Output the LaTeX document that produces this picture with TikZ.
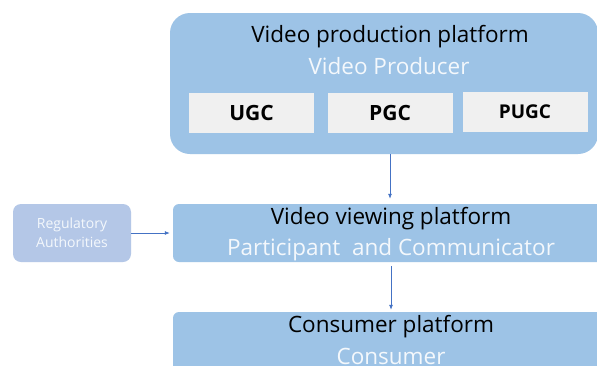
\documentclass[tikz,border=0pt]{standalone}
\usepackage{fontspec}
\setmainfont{Open Sans}
\usetikzlibrary{arrows.meta}
\definecolor{boxblue}{HTML}{9DC3E6}
\definecolor{regblue}{HTML}{B4C7E7}
\definecolor{arrowblue}{HTML}{4472C4}
\definecolor{subwhite}{HTML}{F4F8FC}
\definecolor{tagfill}{HTML}{F0F0F0}
\tikzset{
  platform/.style={fill=boxblue, draw=none, inner sep=0pt},
  tagbox/.style={fill=tagfill, draw=none, minimum width=125pt, minimum height=40pt, inner sep=0pt, font=\fontsize{21}{24}\selectfont\bfseries},
  titletext/.style={font=\fontsize{22.5}{26}\selectfont, text=black, inner sep=0pt},
  subtext/.style={font=\fontsize{22.5}{26}\selectfont, text=subwhite, inner sep=0pt},
  arr/.style={draw=arrowblue, line width=0.8pt, -{Latex[length=5pt,width=4pt]}}
}
\begin{document}
\begin{tikzpicture}[x=1pt,y=-1pt]
\clip (0,0) rectangle (597,365);
\fill[white] (0,0) rectangle (597,365);
% production platform
\node[platform, rounded corners=20pt, minimum width=428pt, minimum height=141pt] (prod) at (384,83.5) {};
\node[titletext] (prodtitle) at (390,37) {Video production platform};
\node[subtext] (prodsub) at (389,66) {Video Producer};
\node[tagbox] (ugc) at (251.5,113) {UGC};
\node[tagbox] (pgc) at (390,113) {PGC};
\node[tagbox, font=\fontsize{19}{22}\selectfont\bfseries] (pugc) at (525,112) {PUGC};
% viewing platform
\node[platform, rounded corners=6pt, minimum width=447pt, minimum height=58pt] (view) at (396.5,233) {};
\node[titletext] (viewtitle) at (391,219) {Video viewing platform};
\node[subtext] (viewsub) at (391,250) {Participant~ and Communicator};
% consumer platform
\node[platform, rounded corners=6pt, minimum width=447pt, minimum height=88pt] (cons) at (396.5,356) {};
\node[titletext] (constitle) at (391,327) {Consumer platform};
\node[subtext] (conssub) at (391,356) {Consumer};
% regulatory
\node[platform, fill=regblue, rounded corners=8pt, minimum width=118pt, minimum height=58pt, align=center, text=subwhite, font=\fontsize{14}{19}\selectfont] (reg) at (72,233) {Regulatory\\Authorities};
% connectors
\draw[arr, shorten >=5pt] (prodtitle |- prod.south) -- (prodtitle |- view.north);
\draw[arr, shorten <=4pt, shorten >=2pt] (viewtitle |- view.south) -- (viewtitle |- cons.north);
\draw[arr, shorten >=3pt] (reg.east) -- (view.west);
\end{tikzpicture}
\end{document}
